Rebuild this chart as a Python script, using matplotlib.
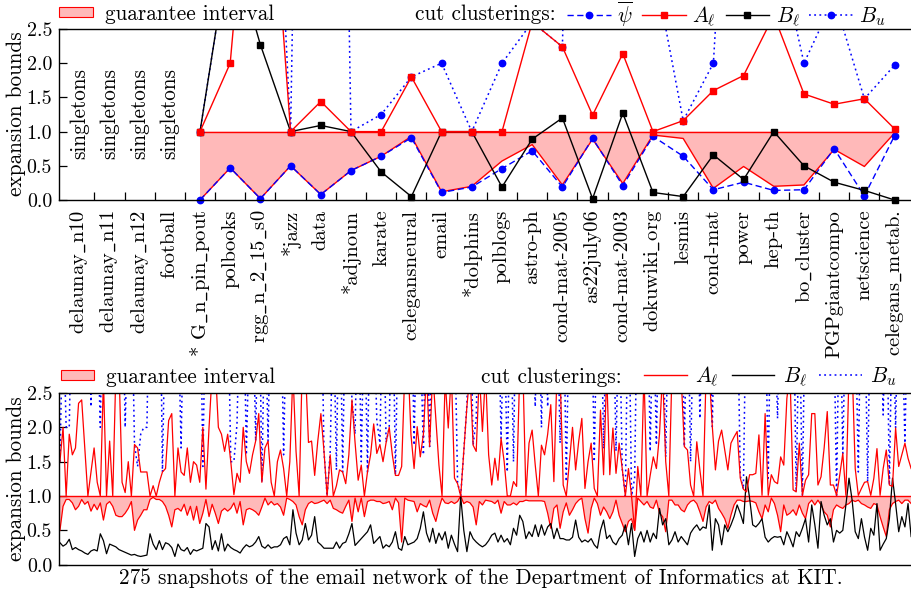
import numpy as np
import matplotlib
matplotlib.use("Agg")
import matplotlib.pyplot as plt
from matplotlib.patches import Patch, Rectangle
from matplotlib.lines import Line2D
from matplotlib.ticker import FormatStrFormatter

plt.rcParams['font.family'] = 'cmr10'
plt.rcParams['mathtext.fontset'] = 'cm'
plt.rcParams['axes.formatter.use_mathtext'] = True

# ---------------- benchmark instances (upper panel) ----------------
instances = ['delaunay_n10', 'delaunay_n11', 'delaunay_n12', 'football',
             '* G_n_pin_pout', 'polbooks', 'rgg_n_2_15_s0', '*jazz', 'data',
             '*adjnoun', 'karate', 'celegansneural', 'email', '*dolphins',
             'polblogs', 'astro-ph', 'cond-mat-2005', 'as22july06',
             'cond-mat-2003', 'dokuwiki_org', 'lesmis', 'cond-mat', 'power',
             'hep-th', 'bo_cluster', 'PGPgiantcompo', 'netscience',
             'celegans_metab.']
singleton_instances = ['delaunay_n10', 'delaunay_n11', 'delaunay_n12', 'football']

# values for the non-singleton instances (G_n_pin_pout ... celegans_metab.)
psi_bar = [0.0, 0.47, 0.02, 0.50, 0.08, 0.43, 0.64, 0.91, 0.11, 0.19, 0.46, 0.72,
           0.19, 0.90, 0.21, 0.93, 0.64, 0.15, 0.26, 0.14, 0.15, 0.75, 0.06, 0.94]
A_low = [1.0, 2.0, 7.0, 1.0, 1.44, 1.0, 1.0, 1.8, 1.0, 1.0, 1.0, 2.6,
         2.24, 1.24, 2.14, 1.0, 1.16, 1.6, 1.82, 2.7, 1.55, 1.40, 1.48, 1.04]
B_low = [1.0, 3.8, 2.27, 1.0, 1.09, 1.0, 0.41, 0.05, 1.0, 1.0, 0.19, 0.89,
         1.2, 0.02, 1.27, 0.11, 0.05, 0.66, 0.3, 1.0, 0.5, 0.26, 0.14, 0.0]
B_up = [1.0, 3.8, 10.0, 1.0, 27.0, 1.0, 1.25, 1.8, 2.0, 1.0, 2.0, 2.6,
        2.24, 20.0, 15.0, 3.5, 1.16, 2.0, 9.5, 4.0, 2.0, 2.95, 1.48, 1.97]
guarantee_lo = [0.0, 0.47, 0.02, 0.5, 0.08, 0.43, 0.64, 0.93, 0.12, 0.2, 0.57, 0.81,
                0.22, 0.89, 0.24, 0.95, 0.90, 0.17, 0.49, 0.2, 0.22, 0.74, 0.49, 0.98]
guarantee_hi = [1.0] * 24

# ---------------- email network snapshots (lower panel) ----------------
snap_A_low = [
    1.5, 2.0, 1.0, 1.9, 1.6, 1.7, 2.35, 2.4, 1.7, 1.0, 1.35, 1.7, 1.2, 1.0, 2.7, 1.0,
    1.8, 1.0, 2.8, 2.9, 1.2, 1.05, 1.5, 1.0, 1.75, 1.7, 1.35, 1.35, 1.35, 1.0, 1.15, 1.0,
    1.2, 1.35, 1.4, 2.1, 2.2, 1.0, 1.7, 1.35, 1.3, 1.7, 1.2, 1.5, 1.45, 1.2, 2.0, 1.1,
    2.0, 2.8, 2.9, 2.0, 1.9, 1.65, 1.9, 1.5,
    1.02, 1.33, 1.2, 2.0, 1.5, 1.33, 1.6, 1.8, 2.2, 1.2, 1.7, 1.8, 1.2, 1.0, 1.5, 1.67,
    1.4, 1.0, 1.5, 2.8, 1.65, 1.0, 2.9, 2.9, 1.78, 1.8, 1.3, 1.8, 2.2, 1.65, 1.0, 1.6,
    1.0, 1.15, 1.38, 1.35, 1.18, 1.6, 2.4, 1.78, 1.23, 1.45, 1.0, 1.35, 1.6, 2.05, 1.62,
    1.75, 1.5, 1.78, 2.0, 1.6, 1.3, 1.3,
    1.43, 2.8, 3.0, 1.89, 1.4, 2.01, 1.57, 1.9, 2.8, 1.72, 2.8, 2.13, 1.45, 1.0, 2.7,
    1.99, 2.8, 1.26, 1.18, 1.0, 1.65, 2.3, 2.8, 1.74, 1.65, 2.8, 1.94, 2.8, 1.6, 1.16,
    1.55, 1.23, 1.84, 1.5, 1.0, 1.0, 1.21, 1.14, 2.8, 2.9, 1.0, 1.77, 1.96, 1.45, 1.0,
    1.74, 1.6, 1.9, 2.33, 1.21, 2.8, 2.8, 1.16, 1.0, 1.5,
    2.0, 1.38, 1.8, 2.13, 1.11, 1.5, 1.77, 1.11, 1.0, 2.25, 1.31, 2.8, 1.31, 1.99, 1.33,
    1.77, 1.4, 1.0, 1.4, 1.0, 0.5, 1.43, 1.0, 2.8, 1.0, 1.3, 1.57, 1.4, 1.9, 2.8, 1.5,
    1.0, 2.8, 2.9, 2.8, 2.7, 1.72, 1.67, 1.16, 1.0, 1.79, 1.38, 1.0, 2.8, 2.8, 2.01,
    1.38, 1.8, 1.96, 1.67, 1.38, 1.77, 1.86, 1.94, 1.26,
    1.1, 1.06, 1.31, 1.31, 1.33, 1.89, 1.01, 2.2, 1.01, 1.31, 1.21, 1.18, 1.57, 1.45,
    2.42, 2.8, 1.09, 1.06, 1.77, 1.01, 1.23, 1.31, 2.2, 2.2, 1.16, 1.28, 1.7, 2.23, 1.16,
    1.16, 1.01, 1.3, 1.62, 1.01, 2.8, 2.9, 1.4, 1.01, 1.11, 1.2, 1.21, 1.01, 1.26, 1.69,
    1.01, 1.4, 1.67, 1.16, 1.14, 1.99, 1.43, 1.6, 1.77, 1.55, 1.4]
snap_B_low = [
    0.32, 0.27, 0.3, 0.37, 0.22, 0.25, 0.22, 0.2, 0.17, 0.15, 0.2, 0.22, 0.2, 0.45, 0.35,
    0.16, 0.3, 0.28, 0.26, 0.22, 0.2, 0.18, 0.16, 0.14, 0.15, 0.13, 0.12, 0.13, 0.14, 0.45,
    0.3, 0.22, 0.35, 0.22, 0.32, 0.3, 0.25, 0.12, 0.3, 0.22, 0.2, 0.25, 0.15, 0.22, 0.2,
    0.22, 0.24, 0.6, 0.55, 0.22, 0.35, 0.2, 0.45, 0.2, 0.3, 0.25,
    0.22, 0.2, 0.17, 0.24, 0.29, 0.26, 0.28, 0.33, 0.41, 0.27, 0.24, 0.29, 0.24, 0.26,
    0.26, 0.29, 0.38, 0.41, 0.29, 0.8, 0.46, 0.29, 0.36, 0.6, 0.36, 0.43, 0.7, 0.33, 0.29,
    0.24, 0.24, 0.24, 0.24, 0.33, 0.24, 0.31, 0.33, 0.45, 0.6, 0.28, 0.33, 0.38, 0.43,
    0.48, 0.58, 0.31, 0.36, 0.41, 0.24, 0.29, 0.26, 0.33, 0.48, 0.24,
    0.21, 0.41, 0.29, 0.31, 0.33, 0.38, 0.53, 0.77, 0.46, 0.33, 0.53, 0.31, 0.46, 0.36,
    0.48, 0.24, 0.43, 0.3, 0.19, 1.0, 0.5, 0.19, 0.48, 0.38, 0.33, 0.29, 0.26, 0.29, 0.35,
    0.43, 0.46, 0.33, 0.43, 0.33, 0.38, 0.29, 0.53, 0.43, 0.72, 0.63, 0.38, 0.48, 0.41,
    0.58, 0.41, 0.58, 0.43, 0.55, 0.6, 0.38, 0.53, 0.38, 0.38, 0.36, 0.36,
    0.4, 0.65, 0.4, 0.33, 0.36, 0.33, 0.38, 0.29, 0.24, 0.5, 0.65, 0.38, 0.43, 0.33, 0.29,
    0.38, 0.43, 0.58, 0.29, 0.6, 0.12, 0.38, 0.48, 0.33, 0.5, 0.33, 0.46, 0.38, 0.82, 0.58,
    0.67, 0.29, 0.36, 0.48, 0.33, 0.41, 0.35, 0.29, 0.46, 0.53, 0.58, 0.5, 0.55, 0.53,
    0.87, 0.21, 0.67, 0.58, 0.29, 0.58, 0.48, 0.58, 0.7, 0.87, 0.75,
    0.6, 1.28, 0.97, 0.58, 0.55, 0.6, 0.67, 0.4, 0.33, 0.38, 0.41, 0.4, 0.41, 0.29, 0.48,
    0.38, 0.26, 0.48, 0.41, 0.53, 0.67, 0.33, 0.87, 0.58, 0.24, 0.92, 0.72, 0.58, 0.67,
    0.33, 0.5, 0.46, 0.5, 0.87, 1.26, 0.94, 0.48, 0.38, 0.67, 0.4, 0.21, 0.53, 0.43, 0.89,
    0.21, 0.3, 0.38, 0.67, 1.26, 0.89, 0.48, 0.7, 0.55, 0.89, 0.41]
snap_B_up = [
    1.5, 3.8, 2.0, 2.0, 4.5, 3.6, 5.0, 4.2, 3.9, 4.6, 2.3, 4.1, 3.7, 2.0, 4.8, 3.5, 4.4,
    5.2, 3.8, 4.0, 4.6, 2.0, 3.9, 4.3, 1.75, 1.43, 1.9, 2.0, 2.0, 4.7, 3.6, 4.2, 5.1, 1.35,
    4.0, 3.7, 4.5, 4.9, 3.8, 1.7, 4.4, 3.9, 5.0, 4.1, 3.6, 4.8, 1.43, 4.2, 3.9, 5.3, 4.0,
    4.4, 3.7, 4.6, 4.1, 1.5,
    1.5, 2.05, 4.0, 4.5, 1.6, 3.5, 4.2, 1.8, 4.6, 1.2, 3.9, 1.8, 4.5, 4.1, 3.5, 4.4, 1.6,
    4.0, 4.7, 3.8, 3.8, 4.3, 4.0, 4.2, 3.0, 4.6, 3.5, 4.1, 4.4, 1.65, 1.0, 1.65, 3.9, 1.38,
    4.5, 1.35, 4.2, 3.8, 2.4, 1.9, 4.3, 1.5, 4.0, 1.35, 4.6, 3.9, 2.1, 1.77, 4.2, 1.78,
    2.0, 4.4, 1.31, 4.0,
    4.0, 4.3, 3.8, 4.6, 1.74, 4.2, 3.5, 1.6, 4.4, 1.72, 3.9, 4.7, 4.1, 3.5, 4.3, 4.0, 4.8,
    3.7, 1.2, 1.0, 1.65, 2.33, 4.2, 1.74, 2.13, 4.5, 3.9, 4.4, 4.0, 3.6, 4.9, 4.2, 1.84,
    3.8, 1.35, 4.1, 1.5, 4.6, 4.3, 3.9, 4.5, 4.0, 3.7, 2.3, 4.4, 2.0, 4.2, 2.3, 4.6, 3.8,
    4.1, 1.77, 4.3, 1.21, 4.0,
    4.2, 3.8, 4.5, 4.0, 4.7, 3.6, 4.3, 1.5, 4.1, 4.4, 1.69, 3.9, 4.6, 4.2, 1.65, 4.0, 1.4,
    1.0, 4.3, 1.0, 1.26, 4.5, 3.8, 4.1, 4.6, 1.65, 4.0, 1.74, 4.4, 3.7, 1.57, 4.2, 4.8,
    3.9, 4.5, 4.1, 1.72, 4.3, 1.5, 3.8, 4.6, 2.13, 4.0, 4.4, 3.7, 2.01, 4.2, 4.5, 3.9, 4.3,
    4.0, 4.7, 3.8, 4.1, 1.3,
    1.1, 4.3, 3.9, 4.6, 4.1, 3.7, 4.4, 4.0, 1.26, 4.5, 3.8, 2.13, 4.2, 4.7, 3.9, 4.1, 4.4,
    1.06, 3.8, 1.01, 4.3, 4.0, 4.6, 3.9, 4.2, 4.5, 3.7, 4.1, 4.8, 4.0, 1.01, 4.3, 1.62,
    3.9, 4.4, 4.1, 3.8, 1.35, 4.5, 4.0, 1.21, 4.2, 3.9, 4.6, 4.1, 2.18, 4.3, 1.16, 4.0,
    1.99, 4.4, 3.8, 1.77, 4.2, 4.5]
snap_guarantee_lo = [
    0.5, 0.85, 0.95, 0.95, 0.9, 0.8, 0.85, 0.95, 0.88, 0.92, 0.78, 0.88, 0.8, 0.9, 0.65,
    0.88, 0.92, 0.85, 0.72, 0.7, 0.7, 0.75, 0.82, 0.92, 0.5, 0.65, 0.72, 0.8, 0.8, 0.95,
    0.98, 0.95, 0.95, 0.92, 0.85, 0.72, 0.55, 0.8, 0.82, 0.78, 0.88, 0.72, 0.85, 0.65,
    0.85, 0.6, 0.75, 0.95, 0.7, 0.88, 0.75, 0.6, 0.78, 0.82, 0.78, 0.82,
    0.9, 0.75, 0.92, 0.58, 0.8, 0.82, 0.8, 0.77, 0.72, 0.84, 0.97, 0.87, 0.92, 0.87, 0.89,
    0.84, 0.72, 0.97, 0.95, 0.92, 0.87, 0.7, 0.58, 0.8, 0.89, 0.92, 0.89, 0.9, 0.92, 0.94,
    0.89, 0.94, 0.82, 0.8, 0.77, 0.75, 0.85, 0.94, 0.63, 0.97, 0.77, 0.97, 0.7, 0.92, 0.94,
    0.94, 0.92, 0.92, 0.89, 0.9, 0.92, 0.8, 0.97, 0.9,
    0.33, 0.97, 0.94, 0.93, 0.92, 0.77, 0.89, 0.86, 0.84, 0.94, 0.75, 0.63, 0.82, 0.97,
    0.9, 0.89, 0.92, 0.89, 0.92, 1.0, 0.89, 0.92, 0.9, 0.84, 0.58, 0.92, 0.87, 0.94, 0.93,
    0.92, 0.89, 0.94, 0.75, 0.92, 0.87, 0.87, 0.9, 0.87, 0.92, 0.92, 0.94, 0.93, 0.93,
    0.93, 0.93, 0.93, 0.92, 0.75, 0.53, 0.82, 0.87, 0.53, 0.77, 0.9, 0.72,
    0.8, 0.89, 0.94, 0.97, 0.67, 0.46, 0.82, 0.97, 0.89, 0.72, 0.84, 0.77, 0.67, 0.77,
    0.94, 0.72, 0.6, 0.48, 0.63, 0.67, 0.5, 0.97, 0.92, 0.87, 0.92, 0.84, 0.82, 0.94, 0.75,
    0.7, 0.48, 0.94, 0.94, 0.87, 0.87, 0.8, 0.77, 0.87, 0.92, 0.94, 0.89, 0.77, 0.63, 0.84,
    0.92, 0.89, 0.94, 0.82, 0.75, 0.67, 0.53, 0.72, 0.87, 0.94, 0.94,
    0.92, 0.92, 0.93, 0.92, 0.9, 0.77, 0.67, 0.87, 0.77, 0.97, 0.89, 0.72, 0.48, 0.87, 0.72,
    0.75, 0.8, 0.72, 0.87, 0.75, 0.67, 0.89, 0.94, 0.87, 0.94, 0.87, 0.77, 0.72, 0.55, 0.8,
    0.87, 0.84, 0.82, 0.87, 0.89, 0.94, 0.92, 0.94, 0.89, 0.87, 0.84, 0.82, 0.89, 0.87,
    0.7, 0.55, 0.41, 0.8, 0.89, 0.92, 0.94, 0.89, 0.94, 0.94, 0.89]
snap_guarantee_hi = [1.0] * len(snap_A_low)

y_ticks = [0.0, 0.5, 1.0, 1.5, 2.0, 2.5]
caption = '275 snapshots of the email network of the Department of Informatics at KIT.'

# ---------------- style ----------------
FS = 15.3
FS_TICK = 14.4
FS_CAT = 14.8
RED = '#ff0000'
BLUE = '#0000ff'
PINK = '#ffb9b9'
DASHED = (0, (4.5, 2.5))
DOTTED = (0, (1.2, 2.2))
MS = 4.6

W, H = 911, 592
fig = plt.figure(figsize=(W / 100, H / 100), dpi=100)


def box(x0, y_top, x1, y_bot):
    return [x0 / W, 1 - y_bot / H, (x1 - x0) / W, (y_bot - y_top) / H]


def ul(s):
    return s.replace('_', r'$\_$')


def style_axis(ax):
    ax.set_ylim(0, 2.5)
    ax.set_yticks(y_ticks)
    ax.yaxis.set_major_formatter(FormatStrFormatter('%.1f'))
    ax.tick_params(axis='y', direction='in', length=6, width=0.9, pad=5,
                   labelsize=FS_TICK)
    for sp in ax.spines.values():
        sp.set_linewidth(1.0)


def clip_box(ax):
    return Rectangle((0, -0.08), 1, 1.08, transform=ax.transAxes,
                     facecolor='none', edgecolor='none')


# ================= upper panel =================
ax1 = fig.add_axes(box(59, 29, 913, 200))
style_axis(ax1)
n = len(instances)
xi = np.arange(n)
xs = np.arange(len(singleton_instances), n)
ax1.set_xlim(-0.669, 27.61)

ax1.fill_between(xs, guarantee_lo, guarantee_hi, facecolor=PINK, edgecolor='none', lw=0)
series = [
    ax1.plot(xs, guarantee_hi, color=RED, lw=1.0)[0],
    ax1.plot(xs, guarantee_lo, color=RED, lw=1.0)[0],
    ax1.plot(xs, psi_bar, color=BLUE, lw=1.0, ls=DASHED, marker='o', ms=MS)[0],
    ax1.plot(xs, B_up, color=BLUE, lw=1.1, ls=DOTTED, marker='o', ms=MS)[0],
    ax1.plot(xs, B_low, color='black', lw=1.0, marker='s', ms=MS)[0],
    ax1.plot(xs, A_low, color=RED, lw=1.0, marker='s', ms=MS)[0],
]
for ln in series:
    ln.set_clip_path(clip_box(ax1))

for i, name in enumerate(singleton_instances):
    ax1.text(i, 1.26, 'singletons', rotation=90, ha='center', va='center', fontsize=FS)

ax1.set_xticks(xi)
ax1.set_xticklabels([ul(s) for s in instances], rotation=90, fontsize=FS_CAT)
ax1.set_xticks(xi[:-1] + 0.5, minor=True)
ax1.tick_params(axis='x', which='major', length=0, pad=7)
ax1.tick_params(axis='x', which='minor', direction='in', length=6, width=0.9)

fig.text(16 / W, 1 - 114 / H, 'expansion bounds', rotation=90,
         ha='center', va='center', fontsize=FS)

fig.legend(handles=[Patch(facecolor=PINK, edgecolor=RED, lw=0.8)],
           labels=['guarantee interval'], loc='center left',
           bbox_to_anchor=(59 / W, 1 - 14 / H), frameon=False,
           handlelength=1.6, handleheight=0.35, handletextpad=0.55,
           borderpad=0, borderaxespad=0, fontsize=FS)
fig.text(415 / W, 1 - 14 / H, 'cut clusterings:', ha='left', va='center', fontsize=FS)
top_handles = [
    Line2D([], [], color=BLUE, lw=1.0, ls=DASHED, marker='o', ms=MS),
    Line2D([], [], color=RED, lw=1.0, marker='s', ms=MS),
    Line2D([], [], color='black', lw=1.0, marker='s', ms=MS),
    Line2D([], [], color=BLUE, lw=1.1, ls=DOTTED, marker='o', ms=MS),
]
fig.legend(handles=top_handles,
           labels=[r'$\overline{\psi}$', r'$A_\ell$', r'$B_\ell$', r'$B_u$'],
           loc='center left', bbox_to_anchor=(567 / W, 1 - 14 / H), ncol=4,
           frameon=False, handlelength=2.05, handletextpad=0.3, columnspacing=0.45,
           borderpad=0, borderaxespad=0, fontsize=FS, numpoints=1)

# ================= lower panel =================
ax2 = fig.add_axes(box(59, 393, 913, 564.7))
style_axis(ax2)
t = np.arange(len(snap_A_low))
ax2.set_xlim(-0.3, 274.6)
ax2.set_xticks([])

ax2.fill_between(t, snap_guarantee_lo, snap_guarantee_hi, facecolor=PINK,
                 edgecolor='none', lw=0)
ax2.plot(t, snap_B_up, color=BLUE, lw=1.1, ls=DOTTED)
ax2.plot(t, snap_guarantee_hi, color=RED, lw=1.0)
ax2.plot(t, snap_guarantee_lo, color=RED, lw=0.9)
ax2.plot(t, snap_B_low, color='black', lw=0.9)
ax2.plot(t, snap_A_low, color=RED, lw=0.9)

fig.text(16 / W, 1 - 479 / H, 'expansion bounds', rotation=90,
         ha='center', va='center', fontsize=FS)
fig.text(481 / W, 1 - 578 / H, caption, ha='center', va='center', fontsize=FS)

fig.legend(handles=[Patch(facecolor=PINK, edgecolor=RED, lw=0.8)],
           labels=['guarantee interval'], loc='center left',
           bbox_to_anchor=(61 / W, 1 - 377 / H), frameon=False,
           handlelength=1.55, handleheight=0.35, handletextpad=0.55,
           borderpad=0, borderaxespad=0, fontsize=FS)
fig.text(481 / W, 1 - 377 / H, 'cut clusterings:', ha='left', va='center', fontsize=FS)
fig.legend(handles=[Line2D([], [], color=RED, lw=1.0),
                    Line2D([], [], color='black', lw=1.0),
                    Line2D([], [], color=BLUE, lw=1.1, ls=DOTTED)],
           labels=[r'$A_\ell$', r'$B_\ell$', r'$B_u$'],
           loc='center left', bbox_to_anchor=(644 / W, 1 - 377 / H), ncol=3,
           frameon=False, handlelength=2.0, handletextpad=0.4, columnspacing=0.6,
           borderpad=0, borderaxespad=0, fontsize=FS)

fig.savefig('out.png', dpi=100)
